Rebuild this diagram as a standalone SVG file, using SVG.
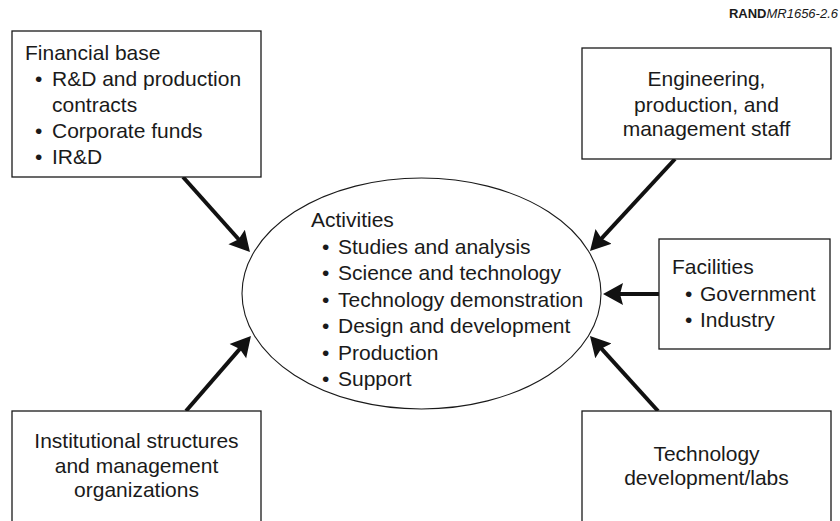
<svg xmlns="http://www.w3.org/2000/svg" width="840" height="521" viewBox="0 0 840 521">
<style>
  .box { fill: #ffffff; stroke: #1a1a1a; stroke-width: 1.3; }
  .ell { fill: #ffffff; stroke: #1a1a1a; stroke-width: 1.1; }
  .t { font-family: "Liberation Sans", Arial, Helvetica, sans-serif; font-size: 21px; fill: #1a1a1a; }
  .c { text-anchor: middle; }
  .arrow { stroke: #111111; stroke-width: 4; fill: none; marker-end: url(#head); }
  .tag { font-family: "Liberation Sans", Arial, Helvetica, sans-serif; font-size: 13px; fill: #1a1a1a; }
</style>
<defs>
  <marker id="head" markerUnits="userSpaceOnUse" markerWidth="22" markerHeight="24" viewBox="0 0 22 24" refX="10" refY="12" orient="auto">
    <path d="M0,1 L20,12 L0,23 L3,12 Z" fill="#111111"/>
  </marker>
</defs>
<rect width="840" height="521" fill="#ffffff"/>

<text class="tag" x="838" y="18" text-anchor="end"><tspan font-weight="bold">RAND</tspan><tspan font-style="italic">MR1656-2.6</tspan></text>

<g id="connectors">
  <line class="arrow" x1="183" y1="177" x2="243.3" y2="244.5"/>
  <line class="arrow" x1="675" y1="159" x2="596.8" y2="243.7"/>
  <line class="arrow" x1="659" y1="294" x2="613" y2="294"/>
  <line class="arrow" x1="186" y1="411" x2="244.4" y2="343.6"/>
  <line class="arrow" x1="658" y1="411" x2="596.7" y2="343.4"/>
</g>

<g id="financial-base">
  <rect class="box" x="12" y="31" width="249" height="146"/>
  <text class="t" x="25" y="60">Financial base</text>
  <text class="t" y="86"><tspan x="35">•</tspan><tspan x="52">R&amp;D and production</tspan></text>
  <text class="t" x="52" y="111.8">contracts</text>
  <text class="t" y="137.7"><tspan x="35">•</tspan><tspan x="52">Corporate funds</tspan></text>
  <text class="t" y="163.6"><tspan x="35">•</tspan><tspan x="52">IR&amp;D</tspan></text>
</g>

<g id="engineering-staff">
  <rect class="box" x="582" y="48" width="249" height="111"/>
  <text class="t c" x="706.5" y="86">Engineering,</text>
  <text class="t c" x="706.5" y="111.5">production, and</text>
  <text class="t c" x="706.5" y="136">management staff</text>
</g>

<g id="facilities">
  <rect class="box" x="659" y="239" width="171" height="110"/>
  <text class="t" x="672" y="274">Facilities</text>
  <text class="t" y="300.5"><tspan x="685">•</tspan><tspan x="700">Government</tspan></text>
  <text class="t" y="327"><tspan x="685">•</tspan><tspan x="700">Industry</tspan></text>
</g>

<g id="activities">
  <ellipse class="ell" cx="421.5" cy="293.5" rx="179.5" ry="115.5"/>
  <text class="t" x="311" y="227">Activities</text>
  <text class="t" y="253.5"><tspan x="322">•</tspan><tspan x="338">Studies and analysis</tspan></text>
  <text class="t" y="280"><tspan x="322">•</tspan><tspan x="338">Science and technology</tspan></text>
  <text class="t" y="306.5"><tspan x="322">•</tspan><tspan x="338">Technology demonstration</tspan></text>
  <text class="t" y="333"><tspan x="322">•</tspan><tspan x="338">Design and development</tspan></text>
  <text class="t" y="359.5"><tspan x="322">•</tspan><tspan x="338">Production</tspan></text>
  <text class="t" y="386"><tspan x="322">•</tspan><tspan x="338">Support</tspan></text>
</g>

<g id="institutional-structures">
  <rect class="box" x="12" y="411" width="249" height="130"/>
  <text class="t c" x="136.5" y="447.5">Institutional structures</text>
  <text class="t c" x="136.5" y="472.5">and management</text>
  <text class="t c" x="136.5" y="497">organizations</text>
</g>

<g id="technology-labs">
  <rect class="box" x="582" y="411" width="249" height="130"/>
  <text class="t c" x="706.5" y="460.5">Technology</text>
  <text class="t c" x="706.5" y="485">development/labs</text>
</g>
</svg>
